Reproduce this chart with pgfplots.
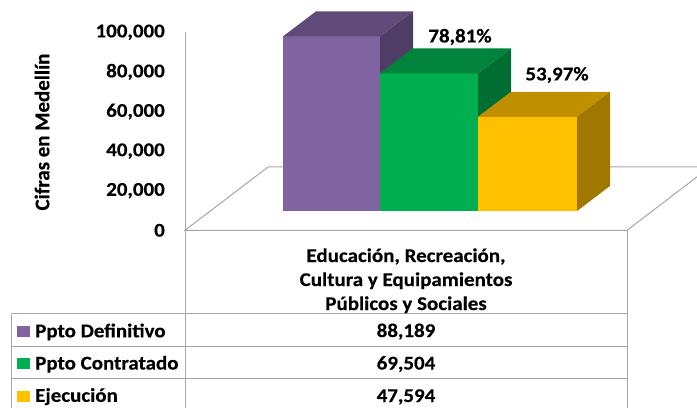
\documentclass[border=0pt]{standalone}
\usepackage{fontspec}
\setmainfont{Carlito}[FakeStretch=1.08, BoldFeatures={FakeBold=0.4}]
\newfontfamily\ylabfont{Carlito}[BoldFeatures={FakeBold=0.4}]
\usepackage{pgfplots}
\pgfplotsset{compat=1.18}
\definecolor{pfront}{HTML}{8064A2}
\definecolor{ptop}{HTML}{5F4A7A}
\definecolor{pside}{HTML}{4F3D66}
\definecolor{gfront}{HTML}{00B050}
\definecolor{gtop}{HTML}{00843C}
\definecolor{gside}{HTML}{006E32}
\definecolor{yfront}{HTML}{FFC000}
\definecolor{ytop}{HTML}{C09000}
\definecolor{yside}{HTML}{A07800}
\definecolor{linegray}{HTML}{A6A6A6}
\newcommand{\tf}{\fontsize{19.5}{23.5}\selectfont\bfseries}
\begin{document}
\begin{tikzpicture}
\useasboundingbox (0,0) rectangle (697bp,408bp);
\begin{axis}[
  at={(185bp,177.7bp)}, anchor=south west,
  scale only axis, width=512bp, height=230.3bp,
  xmin=185, xmax=697, ymin=0, ymax=116313,
  clip=false,
  axis line style={draw=none},
  xtick=\empty,
  ytick={0,20000,40000,60000,80000,100000},
  yticklabels={0,{20,000},{40,000},{60,000},{80,000},{100,000}},
  major tick length=0pt,
  scaled y ticks=false,
  y tick label style={font=\tf, inner sep=0pt, xshift=-20bp},
]
% floor
\addplot[draw=linegray, line width=1bp, fill=white] coordinates {(185,0) (627,0) (710,31970) (268,31970)} -- cycle;
% vertical axis line
\addplot[draw=linegray, line width=1bp] coordinates {(185,0) (185,100000)};
% Ppto Definitivo
\addplot[ybar, bar width=97, bar shift=0pt, fill=pfront, draw=none, yshift=19.3bp] coordinates {(331.5,88189)};
\addplot[fill=ptop, draw=none, yshift=19.3bp] coordinates {(283,88189) (380,88189) (413,100815) (316,100815)} -- cycle;
\addplot[fill=pside, draw=none, yshift=19.3bp] coordinates {(380,0) (413,12626) (413,100815) (380,88189)} -- cycle;
% Ppto Contratado
\addplot[ybar, bar width=98, bar shift=0pt, fill=gfront, draw=none, yshift=19.3bp] coordinates {(429,69504)};
\addplot[fill=gtop, draw=none, yshift=19.3bp] coordinates {(380,69504) (478,69504) (511,82130) (413,82130)} -- cycle;
\addplot[fill=gside, draw=none, yshift=19.3bp] coordinates {(478,0) (511,12626) (511,82130) (478,69504)} -- cycle;
% Ejecucion
\addplot[ybar, bar width=99, bar shift=0pt, fill=yfront, draw=none, yshift=19.3bp] coordinates {(527.5,47594)};
\addplot[fill=ytop, draw=none, yshift=19.3bp] coordinates {(478,47594) (577,47594) (610,60220) (511,60220)} -- cycle;
\addplot[fill=yside, draw=none, yshift=19.3bp] coordinates {(577,0) (610,12626) (610,60220) (577,47594)} -- cycle;
% percentage labels
\node[font=\tf, inner sep=0pt] at (axis cs:460,97626) {78,81\%};
\node[font=\tf, inner sep=0pt] at (axis cs:557,78435) {53,97\%};
\end{axis}
\begin{scope}[x=1bp,y=1bp]
\draw[linegray, line width=1bp] (185,177.7) -- (185,-5);
\draw[linegray, line width=1bp] (627,177.7) -- (627,-5);
\draw[linegray, line width=1bp] (11.5,94) -- (11.5,-5);
\draw[linegray, line width=1bp] (11.5,94) -- (627,94);
\draw[linegray, line width=1bp] (11.5,61.5) -- (627,61.5);
\draw[linegray, line width=1bp] (11.5,29) -- (627,29);
\fill[pfront] (17,71) rectangle (29.5,82);
\fill[gfront] (17,38.5) rectangle (29.5,49.5);
\fill[yfront] (17,6) rectangle (29.5,17);
\node[anchor=base west, inner sep=0pt, font=\tf] at (35,70.7) {Ppto Definitivo};
\node[anchor=base west, inner sep=0pt, font=\tf] at (35,38.5) {Ppto Contratado};
\node[anchor=base west, inner sep=0pt, font=\tf] at (35,6.2) {Ejecución};
\node[anchor=base, inner sep=0pt, font=\tf] at (406,71) {88,189};
\node[anchor=base, inner sep=0pt, font=\tf] at (406,38.5) {69,504};
\node[anchor=base, inner sep=0pt, font=\tf] at (406,6) {47,594};
\node[anchor=base, inner sep=0pt, font=\tf] at (406,146) {Educación, Recreación,};
\node[anchor=base, inner sep=0pt, font=\tf] at (406,122) {Cultura y Equipamientos};
\node[anchor=base, inner sep=0pt, font=\tf] at (406,98) {Públicos y Sociales};
\node[anchor=base, inner sep=0pt, rotate=90, font=\ylabfont\fontsize{21}{25}\selectfont\bfseries] at (49.3,276) {Cifras en Medellín};
\end{scope}
\end{tikzpicture}
\end{document}
